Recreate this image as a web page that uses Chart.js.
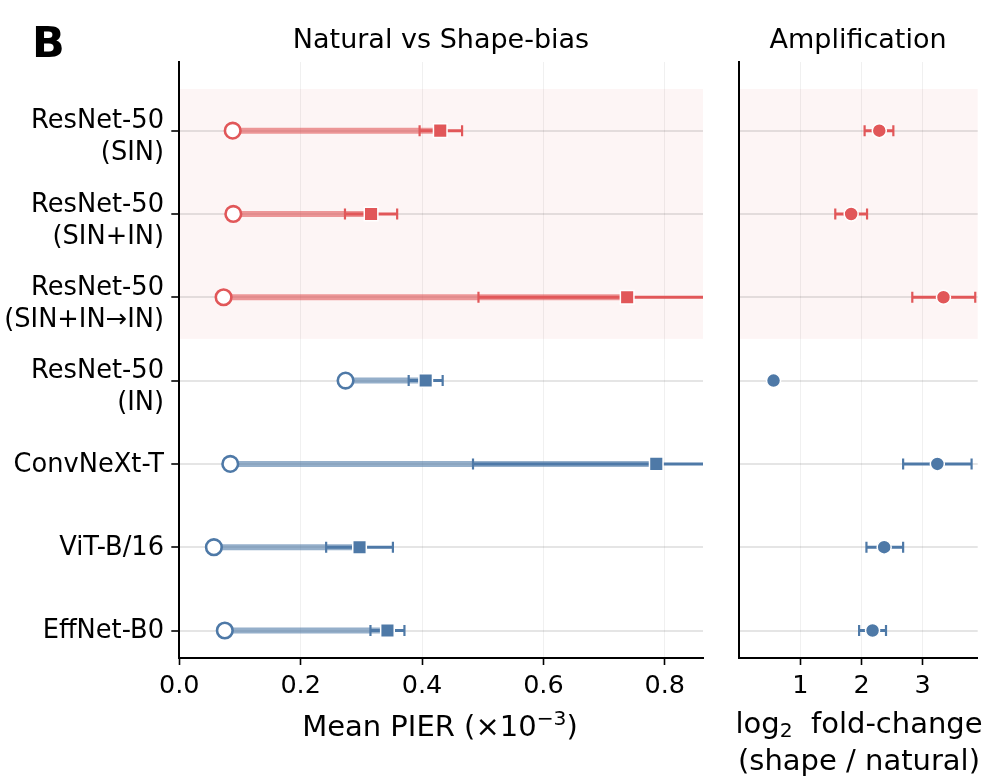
<!DOCTYPE html>
<html>
<head>
<meta charset="utf-8">
<script src="https://cdn.jsdelivr.net/npm/chart.js@4.4.1/dist/chart.umd.min.js"></script>
<style>
    html, body { margin: 0; padding: 0; background: #fff; }
    body { width: 997px; height: 783px; position: relative; overflow: hidden; font-family: "DejaVu Sans", sans-serif; color: #000; }
    .box { position: absolute; top: 0; height: 783px; }
    .txt { position: absolute; font-size: 29px; line-height: 1; white-space: nowrap; transform: translateX(-50%); }
    .title { font-size: 27px; }
    .sup { font-size: 0.7em; position: relative; top: -0.55em; }
    .sub { font-size: 0.7em; position: relative; top: 0.22em; }
</style>
</head>
<body>
<div class="box" style="left:0;width:720px"><canvas id="pierChart"></canvas></div>
<div class="box" style="left:720px;width:277px"><canvas id="ampChart"></canvas></div>

<div class="txt" style="left:32px;top:21px;font-size:43px;font-weight:bold;transform:none">B</div>
<div class="txt title" style="left:441px;top:25px">Natural vs Shape-bias</div>
<div class="txt title" style="left:858px;top:25px">Amplification</div>
<div class="txt" style="left:440px;top:712px">Mean PIER (×10<span class="sup">−3</span>)</div>
<div class="txt" style="left:859px;top:705.5px;line-height:34.7px;text-align:center">log<span class="sub">2</span>&nbsp; fold-change<br>(shape / natural)</div>

<script>
// 데이터
const categories = [
    ['ResNet-50', '(SIN)'],
    ['ResNet-50', '(SIN+IN)'],
    ['ResNet-50', '(SIN+IN→IN)'],
    ['ResNet-50', '(IN)'],
    'ConvNeXt-T',
    'ViT-B/16',
    'EffNet-B0'
];
const shapeTrained = [true, true, true, false, false, false, false];

const naturalPier = [0.088, 0.089, 0.073, 0.274, 0.084, 0.057, 0.075];
const shapePier   = [0.430, 0.316, 0.738, 0.406, 0.786, 0.297, 0.343];
const shapePierLo = [0.396, 0.273, 0.493, 0.378, 0.484, 0.242, 0.315];
const shapePierHi = [0.466, 0.359, 0.983, 0.434, 1.088, 0.352, 0.371];

const log2Fold   = [2.29, 1.83, 3.34, 0.56, 3.24, 2.37, 2.18];
const log2FoldLo = [2.05, 1.57, 2.83, 0.50, 2.68, 2.08, 1.96];
const log2FoldHi = [2.52, 2.09, 3.86, 0.62, 3.80, 2.68, 2.40];

const pierTicks = [0, 0.2, 0.4, 0.6, 0.8];
const foldTicks = [1, 2, 3];

// 색상
const RED = '#e15759';
const BLUE = '#4e79a7';
const rowColor = shapeTrained.map(s => s ? RED : BLUE);
const rowLight = shapeTrained.map(s => s ? 'rgba(225,87,89,0.6)' : 'rgba(78,121,167,0.6)');
const rows = categories.map((c, i) => i);

// y축 범위 (위아래 여백 포함)
const Y_MIN = -0.824;
const Y_MAX = 6.33;
const PX_PER_ROW = 596 / (Y_MAX - Y_MIN);

Chart.defaults.font.family = '"DejaVu Sans", sans-serif';
Chart.defaults.color = '#000';

// 음영 영역 (SIN 학습 모델)
const shadePlugin = {
    id: 'shade',
    beforeDraw(chart) {
        const { ctx, chartArea, scales } = chart;
        const first = shapeTrained.indexOf(true);
        const last = shapeTrained.lastIndexOf(true);
        const y0 = scales.y.getPixelForValue(first - 0.5);
        const y1 = scales.y.getPixelForValue(last + 0.5);
        ctx.save();
        ctx.fillStyle = 'rgba(225,87,89,0.06)';
        ctx.fillRect(chartArea.left, y0, chartArea.right - chartArea.left, y1 - y0);
        ctx.restore();
    }
};

// 격자선 + 눈금 표시용 y축
function yGridScale(drawTicks) {
    return {
        type: 'linear',
        reverse: true,
        min: Y_MIN,
        max: Y_MAX,
        offset: false,
        weight: 0,
        afterBuildTicks: s => { s.ticks = rows.map(v => ({ value: v })); },
        afterFit: s => { s.width = 0; },
        grid: {
            offset: false,
            color: 'rgba(0,0,0,0.1)',
            lineWidth: 2,
            drawTicks: drawTicks,
            tickColor: '#000',
            tickWidth: 1.6,
            tickLength: 8
        },
        border: { display: true, color: '#000', width: 2 },
        ticks: { display: false }
    };
}

// 라벨 전용 y축 (여러 줄 라벨은 살짝 아래로)
const yLabelScale = {
    type: 'linear',
    position: 'left',
    reverse: true,
    min: Y_MIN,
    max: Y_MAX,
    offset: false,
    weight: 1,
    afterBuildTicks: s => {
        s.ticks = rows.map(i => ({ value: i + (Array.isArray(categories[i]) ? 7 : 1) / PX_PER_ROW }));
    },
    afterFit: s => { s.width = 179.3; },
    grid: { display: false, drawTicks: false },
    border: { display: false },
    ticks: {
        padding: 15.3,
        font: { size: 25.7, lineHeight: 1.24 },
        callback: (v, idx) => categories[idx]
    }
};

function xScale(min, max, tickVals, fmt) {
    return {
        type: 'linear',
        min: min,
        max: max,
        offset: false,
        afterBuildTicks: s => { s.ticks = tickVals.map(v => ({ value: v })); },
        afterFit: s => { s.height = 125; },
        grid: {
            color: 'rgba(0,0,0,0.06)',
            lineWidth: 1,
            tickColor: '#000',
            tickWidth: 1.6,
            tickLength: 7
        },
        border: { display: true, color: '#000', width: 2 },
        ticks: {
            padding: 6,
            maxRotation: 0,
            autoSkip: false,
            font: { size: 25.5 },
            callback: fmt
        }
    };
}

const baseOptions = {
    responsive: true,
    maintainAspectRatio: false,
    animation: false,
    events: [],
    plugins: { legend: { display: false }, tooltip: { enabled: false } }
};

// 왼쪽 패널: Natural vs Shape-bias
new Chart(document.getElementById('pierChart'), {
    type: 'scatter',
    data: {
        datasets: [
            {
                label: 'shape',
                data: rows.map(i => ({ x: shapePier[i], y: i })),
                pointStyle: 'rect',
                radius: 9.6,
                backgroundColor: rowColor,
                borderColor: '#fff',
                borderWidth: 1.5,
                order: 0
            },
            {
                label: 'natural',
                data: rows.map(i => ({ x: naturalPier[i], y: i })),
                pointStyle: 'circle',
                radius: 7.8,
                backgroundColor: '#fff',
                borderColor: rowColor,
                borderWidth: 2.6,
                order: 1
            },
            {
                label: 'caps',
                data: rows.flatMap(i => [{ x: shapePierLo[i], y: i }, { x: shapePierHi[i], y: i }]),
                pointStyle: 'line',
                rotation: 90,
                radius: 5.5,
                borderColor: rows.flatMap(i => [rowColor[i], rowColor[i]]),
                borderWidth: 2.2,
                order: 2
            },
            {
                type: 'bar',
                label: 'ci',
                indexAxis: 'y',
                grouped: false,
                maxBarThickness: 3,
                data: rows.map(i => ({ x: [shapePierLo[i], shapePierHi[i]], y: i })),
                backgroundColor: rowColor,
                borderWidth: 0,
                order: 3
            },
            {
                type: 'bar',
                label: 'link',
                indexAxis: 'y',
                grouped: false,
                maxBarThickness: 6,
                data: rows.map(i => ({ x: [naturalPier[i], shapePier[i]], y: i })),
                backgroundColor: rowLight,
                borderWidth: 0,
                order: 4
            }
        ]
    },
    options: {
        ...baseOptions,
        layout: { padding: { left: 0, top: 62, right: 17, bottom: 0 } },
        scales: {
            x: xScale(0, 0.863, pierTicks, v => v.toFixed(1)),
            y: yGridScale(true),
            yLabel: yLabelScale
        }
    },
    plugins: [shadePlugin]
});

// 오른쪽 패널: Amplification
new Chart(document.getElementById('ampChart'), {
    type: 'scatter',
    data: {
        datasets: [
            {
                label: 'fold',
                data: rows.map(i => ({ x: log2Fold[i], y: i })),
                pointStyle: 'circle',
                radius: 7,
                backgroundColor: rowColor,
                borderColor: '#fff',
                borderWidth: 1.5,
                order: 0
            },
            {
                label: 'caps',
                data: rows.flatMap(i => [{ x: log2FoldLo[i], y: i }, { x: log2FoldHi[i], y: i }]),
                pointStyle: 'line',
                rotation: 90,
                radius: 5.5,
                borderColor: rows.flatMap(i => [rowColor[i], rowColor[i]]),
                borderWidth: 2.2,
                order: 1
            },
            {
                type: 'bar',
                label: 'ci',
                indexAxis: 'y',
                grouped: false,
                maxBarThickness: 3,
                data: rows.map(i => ({ x: [log2FoldLo[i], log2FoldHi[i]], y: i })),
                backgroundColor: rowColor,
                borderWidth: 0,
                order: 2
            }
        ]
    },
    options: {
        ...baseOptions,
        layout: { padding: { left: 19.3, top: 62, right: 19.3, bottom: 0 } },
        scales: {
            x: xScale(0, 3.9, foldTicks, v => String(v)),
            y: yGridScale(false)
        }
    },
    plugins: [shadePlugin]
});
</script>
</body>
</html>
